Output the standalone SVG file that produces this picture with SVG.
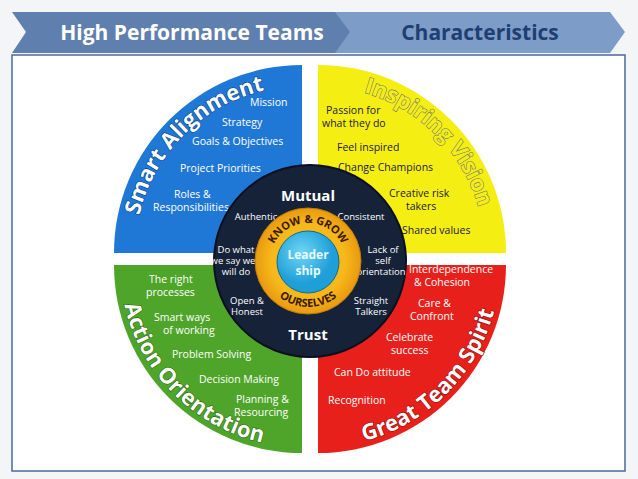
<svg xmlns="http://www.w3.org/2000/svg" xmlns:xlink="http://www.w3.org/1999/xlink" width="638" height="479" viewBox="0 0 638 479">
<defs>
<style>
text{font-family:"Open Sans","Liberation Sans",sans-serif}
.q{font-size:10.5px}
.w{fill:#fff}
.d{fill:#1a1a3a}
.arc{font-size:22px;font-weight:bold;stroke-width:1.2;paint-order:stroke}
.c{font-size:9.5px;fill:#fff;text-anchor:middle}
</style>
<path id="pb" d="M135,253 A167,167 0 0 1 302,86"/>
<path id="py" d="M318,86 A167,167 0 0 1 485,253"/>
<path id="pg" d="M120,265 A182,182 0 0 0 302,447"/>
<path id="pr" d="M318,447 A182,182 0 0 0 500,265"/>
<path id="pk" d="M270,261 A38,38 0 0 1 346,261"/>
<path id="po" d="M262,261 A46,46 0 0 0 354,261"/>
<radialGradient id="gold"><stop offset="0.7" stop-color="#f7b81a"/><stop offset="1" stop-color="#e89a10"/></radialGradient>
<radialGradient id="lb" cx="0.4" cy="0.35"><stop offset="0" stop-color="#6fd6f5"/><stop offset="1" stop-color="#1e9fd8"/></radialGradient>
</defs>
<rect width="638" height="479" fill="#f4f5f7"/>
<rect x="12" y="55" width="613" height="416" fill="#fff" stroke="#4a6a9a" stroke-width="1.5"/>
<g id="header">
<path d="M12,12 L340,12 L356,32 L340,53 L12,53 L26,32 Z" fill="#5f7fae"/>
<path d="M335,12 L610,12 L625,32 L610,53 L335,53 L350,32 Z" fill="#7d9cc8"/>
<text x="192" y="40" font-size="21" font-weight="bold" fill="#fff" text-anchor="middle">High Performance Teams</text>
<text x="480" y="40" font-size="21" font-weight="bold" fill="#1f3f73" text-anchor="middle">Characteristics</text>
</g>
<g id="smart-alignment">
<path d="M302,253 L114,253 A188,188 0 0 1 302,65 Z" fill="#1f78d6"/>
<text class="arc" fill="#fff" stroke="#0b3f80"><textPath xlink:href="#pb" startOffset="50%" text-anchor="middle">Smart Alignment</textPath></text>
<text class="q w" x="250" y="106">Mission</text>
<text class="q w" x="222" y="126">Strategy</text>
<text class="q w" x="192" y="145">Goals &amp; Objectives</text>
<text class="q w" x="180" y="172">Project Priorities</text>
<text class="q w" x="174" y="198">Roles &amp;</text>
<text class="q w" x="153" y="211">Responsibilities</text>
</g>
<g id="inspiring-vision">
<path d="M318,253 L318,65 A188,188 0 0 1 506,253 Z" fill="#f5ee12"/>
<text class="arc" fill="#f5ee12" stroke="#777"><textPath xlink:href="#py" startOffset="50%" text-anchor="middle">Inspiring Vision</textPath></text>
<text class="q d" x="326" y="114">Passion for</text>
<text class="q d" x="322" y="127">what they do</text>
<text class="q d" x="337" y="151">Feel inspired</text>
<text class="q d" x="338" y="171">Change Champions</text>
<text class="q d" x="389" y="197">Creative risk</text>
<text class="q d" x="406" y="210">takers</text>
<text class="q d" x="402" y="234">Shared values</text>
</g>
<g id="action-orientation">
<path d="M302,265 L302,453 A188,188 0 0 1 114,265 Z" fill="#4fa52a"/>
<text class="arc" fill="#fff" stroke="#2a6a10"><textPath xlink:href="#pg" startOffset="50%" text-anchor="middle">Action Orientation</textPath></text>
<text class="q w" x="149" y="283">The right</text>
<text class="q w" x="146" y="296">processes</text>
<text class="q w" x="154" y="321">Smart ways</text>
<text class="q w" x="163" y="334">of working</text>
<text class="q w" x="172" y="358">Problem Solving</text>
<text class="q w" x="199" y="383">Decision Making</text>
<text class="q w" x="236" y="403">Planning &amp;</text>
<text class="q w" x="234" y="416">Resourcing</text>
</g>
<g id="great-team-spirit">
<path d="M318,265 L506,265 A188,188 0 0 1 318,453 Z" fill="#e8201c"/>
<text class="arc" fill="#fff" stroke="#8a0a0a"><textPath xlink:href="#pr" startOffset="50%" text-anchor="middle">Great Team Spirit</textPath></text>
<text class="q w" x="409" y="273">Interdependence</text>
<text class="q w" x="414" y="286">&amp; Cohesion</text>
<text class="q w" x="418" y="307">Care &amp;</text>
<text class="q w" x="410" y="320">Confront</text>
<text class="q w" x="386" y="341">Celebrate</text>
<text class="q w" x="391" y="354">success</text>
<text class="q w" x="334" y="376">Can Do attitude</text>
<text class="q w" x="328" y="404">Recognition</text>
</g>
<g id="mutual-trust">
<circle cx="310" cy="261" r="96" fill="#152238" stroke="#0a1020" stroke-width="2"/>
<text x="308" y="201" font-size="15" font-weight="bold" fill="#fff" text-anchor="middle">Mutual</text>
<text x="308" y="340" font-size="15" font-weight="bold" fill="#fff" text-anchor="middle">Trust</text>
<text class="c" x="256" y="220">Authentic</text>
<text class="c" x="361" y="220">Consistent</text>
<text class="c" x="236" y="253">Do what</text>
<text class="c" x="233" y="264">we say we</text>
<text class="c" x="236" y="275">will do</text>
<text class="c" x="383" y="253">Lack of</text>
<text class="c" x="383" y="264">self</text>
<text class="c" x="381" y="275">orientation</text>
<text class="c" x="247" y="304">Open &amp;</text>
<text class="c" x="247" y="315">Honest</text>
<text class="c" x="371" y="304">Straight</text>
<text class="c" x="371" y="315">Talkers</text>
</g>
<g id="know-grow">
<circle cx="308" cy="261" r="53" fill="url(#gold)" stroke="#c07a08"/>
<text font-size="11" font-weight="bold" fill="#3a1a05"><textPath xlink:href="#pk" startOffset="50%" text-anchor="middle">KNOW &amp; GROW</textPath></text>
<text font-size="11" font-weight="bold" fill="#3a1a05"><textPath xlink:href="#po" startOffset="50%" text-anchor="middle">OURSELVES</textPath></text>
</g>
<g id="leadership">
<circle cx="308" cy="262" r="31" fill="url(#lb)" stroke="#0d6a9c"/>
<text x="308" y="259" font-size="12" font-weight="bold" fill="#e8f8ff" text-anchor="middle">Leader</text>
<text x="308" y="275" font-size="12" font-weight="bold" fill="#e8f8ff" text-anchor="middle">ship</text>
</g>
<g id="connectors"/>
</svg>
